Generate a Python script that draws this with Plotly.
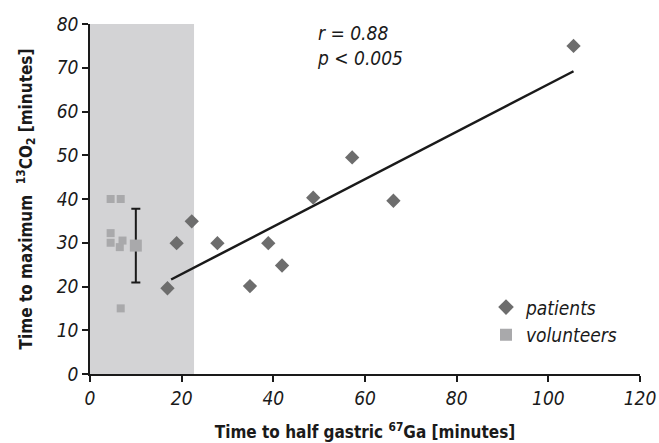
import plotly.graph_objects as go

# ---- data ----
patients_x = [16.9, 18.9, 22.2, 27.8, 34.9, 38.9, 41.9, 48.7, 57.2, 66.2, 105.5]
patients_y = [19.6, 29.9, 34.9, 29.9, 20.1, 29.9, 24.8, 40.3, 49.5, 39.6, 75.0]

volunteers_x = [4.5, 6.7, 4.5, 4.5, 7.1, 6.5, 6.7]
volunteers_y = [40.0, 40.0, 32.2, 30.0, 30.5, 29.0, 15.0]

volunteer_mean_x = [10.0]
volunteer_mean_y = [29.35]
volunteer_sd = [8.45]

fit_x = [17.7, 105.5]
fit_y = [21.6, 69.2]

shaded_x = [0, 22.7]
shaded_y = [0, 80]

x_ticks = [0, 20, 40, 60, 80, 100, 120]
y_ticks = [0, 10, 20, 30, 40, 50, 60, 70, 80]

FONT = "Liberation Sans Narrow, DejaVu Sans Condensed, Liberation Sans, sans-serif"
INK = "#1a1a1a"

def ifont(size):
    return dict(family=FONT, size=size, color=INK, style="italic")

def bfont(size):
    return dict(family=FONT, size=size, color=INK, weight="bold")

fig = go.Figure()

fig.add_trace(go.Scatter(
    x=fit_x, y=fit_y, mode="lines",
    line=dict(color=INK, width=2.5), showlegend=False, hoverinfo="skip"))

fig.add_trace(go.Scatter(
    x=patients_x, y=patients_y, mode="markers", name="patients",
    marker=dict(symbol="diamond", size=11, color="#6d6d6d")))

fig.add_trace(go.Scatter(
    x=volunteers_x, y=volunteers_y, mode="markers", name="volunteers",
    marker=dict(symbol="square", size=8, color="#a9a9ab")))

fig.add_trace(go.Scatter(
    x=volunteer_mean_x, y=volunteer_mean_y, mode="markers", showlegend=False,
    marker=dict(symbol="square", size=12, color="#a9a9ab"),
    error_y=dict(type="data", array=volunteer_sd, color=INK,
                 thickness=2, width=4.5)))

fig.add_shape(type="rect", xref="x", yref="y",
              x0=shaded_x[0], x1=shaded_x[1], y0=shaded_y[0], y1=shaded_y[1],
              fillcolor="#d3d3d5", line=dict(width=0), layer="below")

fig.add_annotation(x=49.0, y=75.2, xref="x", yref="y", xanchor="left", yanchor="middle",
                   align="left", showarrow=False,
                   text="r = 0.88<br>p &lt; 0.005",
                   font=ifont(19))

axis_common = dict(
    showline=True, linecolor=INK, linewidth=1.5,
    ticks="outside", ticklen=6, tickwidth=1.5, tickcolor=INK,
    showgrid=False, zeroline=False,
    tickfont=ifont(19),
)

fig.update_xaxes(range=[0, 120], tickvals=x_ticks,
                 ticktext=[str(v) for v in x_ticks],
                 automargin=False,
                 title=dict(text="Time to half gastric <sup>67</sup>Ga [minutes]",
                            font=bfont(17), standoff=19),
                 **axis_common)
fig.update_yaxes(range=[0, 80], tickvals=y_ticks,
                 ticktext=[str(v) for v in y_ticks],
                 automargin=False,
                 title=dict(text="Time to maximum  <sup>13</sup>CO<sub>2</sub> [minutes]",
                            font=bfont(17), standoff=20),
                 **axis_common)

fig.update_layout(
    width=659, height=443,
    margin=dict(l=90, r=19, t=24, b=69),
    plot_bgcolor="white", paper_bgcolor="white",
    legend=dict(x=0.72, y=0.245, xanchor="left", yanchor="top",
                font=ifont(19),
                bgcolor="rgba(0,0,0,0)", itemsizing="constant", tracegroupgap=4),
)

fig.write_html("out.html",
               config={"displayModeBar": False},
               post_script="document.body.style.margin='0';document.body.style.overflow='hidden';")
